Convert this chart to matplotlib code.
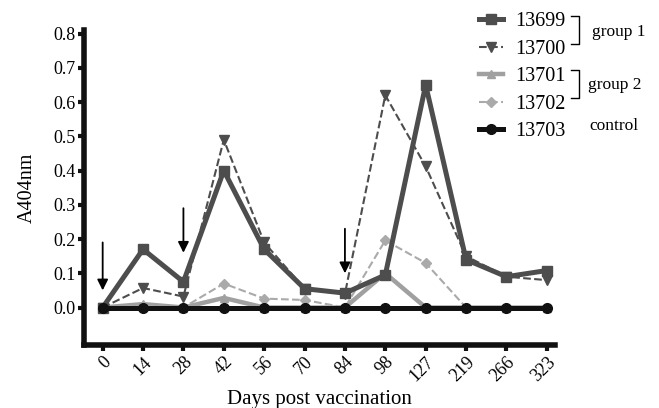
import matplotlib
matplotlib.use("Agg")
import matplotlib.pyplot as plt
from matplotlib.lines import Line2D

plt.rcParams['font.family'] = ['Liberation Serif', 'DejaVu Serif']

days = ['0', '14', '28', '42', '56', '70', '84', '98', '127', '219', '266', '323']
s13699 = [0.0, 0.17, 0.075, 0.40, 0.17, 0.055, 0.042, 0.095, 0.65, 0.14, 0.09, 0.108]
s13700 = [0.0, 0.057, 0.032, 0.49, 0.19, 0.055, 0.04, 0.62, 0.412, 0.15, 0.09, 0.08]
s13701 = [0.0, 0.01, 0.0, 0.028, 0.0, 0.0, 0.0, 0.10, 0.0, 0.0, 0.0, 0.0]
s13702 = [0.0, 0.005, 0.0, 0.07, 0.026, 0.022, 0.0, 0.196, 0.13, 0.0, 0.0, 0.0]
s13703 = [0.0] * 12
# vaccination arrows: (x index, top, bottom)
arrows = [(0, 0.19, 0.05), (2, 0.29, 0.16), (6, 0.23, 0.10)]

fig = plt.figure(figsize=(6.59, 4.08), dpi=100)
ax = fig.add_axes([0.127, 0.154, 0.715, 0.772])
x = range(len(days))

ax.plot(x, s13699, '-s', color='#4d4d4d', lw=3.6, ms=7, label='13699', zorder=4)
ax.plot(x, s13700, '--v', color='#4d4d4d', lw=1.5, ms=7, label='13700', zorder=5)
ax.plot(x, s13701, '-^', color='#a0a0a0', lw=3.2, ms=6, label='13701', zorder=3)
ax.plot(x, s13702, '--D', color='#aaaaaa', lw=1.5, ms=5, label='13702', zorder=3)
ax.plot(x, s13703, '-o', color='#111111', lw=3.6, ms=7, label='13703', zorder=6)

for xi, top, bot in arrows:
    ax.annotate('', xy=(xi, bot), xytext=(xi, top),
                arrowprops=dict(arrowstyle='-|>', color='black', lw=1.3,
                                mutation_scale=16, shrinkA=0, shrinkB=0))

ax.set_xlim(-0.47, 11.2)
ax.set_ylim(-0.11, 0.81)
ax.set_yticks([0.0, 0.1, 0.2, 0.3, 0.4, 0.5, 0.6, 0.7, 0.8])
ax.set_yticklabels(['0.0', '0.1', '0.2', '0.3', '0.4', '0.5', '0.6', '0.7', '0.8'], fontsize=13)
ax.set_xticks(list(x))
ax.set_xticklabels(days, rotation=45, ha='right', rotation_mode='anchor', fontsize=13)
for s in ['top', 'right']:
    ax.spines[s].set_visible(False)
for s in ['left', 'bottom']:
    ax.spines[s].set_linewidth(4)
    ax.spines[s].set_color('#111111')
ax.tick_params(axis='both', length=4, width=3, color='#111111', pad=2)
ax.set_ylabel('A404nm', fontsize=14.5, labelpad=12)
ax.set_xlabel('Days post vaccination', fontsize=15, labelpad=4)

fig.legend(loc='upper left', bbox_to_anchor=(0.705, 1.005), frameon=False,
           fontsize=14.5, handlelength=1.2, labelspacing=0.42, handletextpad=0.6,
           borderaxespad=0.3)

# group brackets
def bracket(y0, y1, xb=0.878):
    fig.add_artist(Line2D([xb - 0.012, xb, xb, xb - 0.012], [y0, y0, y1, y1],
                          color='black', lw=1, transform=fig.transFigure))

bracket(0.962, 0.893)
bracket(0.828, 0.76)
fig.text(0.898, 0.922, 'group 1', fontsize=12.5, va='center')
fig.text(0.892, 0.792, 'group 2', fontsize=12.5, va='center')
fig.text(0.895, 0.69, 'control', fontsize=12.5, va='center')

fig.savefig('out.png', dpi=100)
